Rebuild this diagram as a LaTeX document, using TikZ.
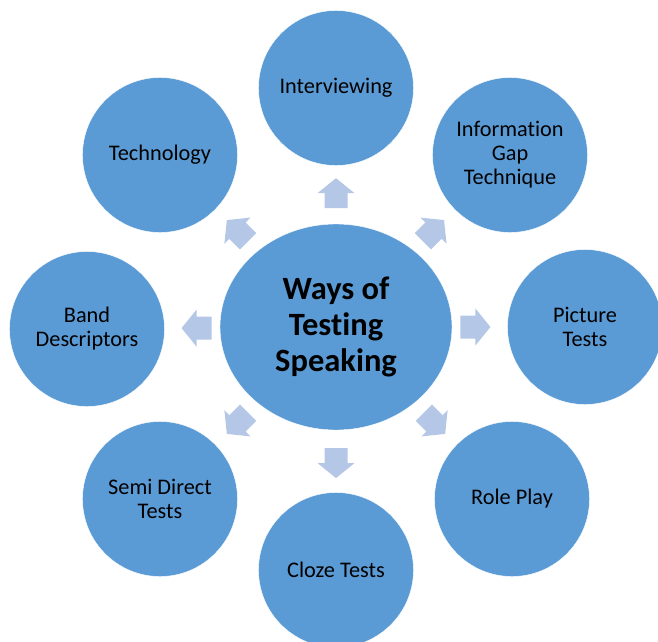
\documentclass[tikz,border=0pt]{standalone}
\usepackage{fontspec}
\setmainfont{Carlito}[Ligatures={NoCommon}]
\usetikzlibrary{positioning,shapes,calc}
\definecolor{hubblue}{HTML}{5B9BD5}
\definecolor{arrowblue}{HTML}{B4C7E7}

\begin{document}
\begin{tikzpicture}[x=1pt,y=1pt,
		leaf/.style={circle, fill=hubblue, draw=white, minimum size=155pt, inner sep=0pt, align=center, font=\fontsize{22.3}{24}\selectfont},
		hub/.style={ellipse, fill=hubblue, draw=white, minimum width=232pt, minimum height=206pt, inner sep=0pt, align=center, font=\fontsize{32.5}{36}\bfseries\selectfont}]
		\useasboundingbox (-336,-314) rectangle (322,327);
		
		\node[hub] (W) at (0, 0) {Ways of\\Testing\\Speaking};
		\node[leaf] (I) at (0, 239) {Interviewing};
		\node[leaf] (G) at (174, 172) {Information\\Gap\\Technique};
		\node[leaf] (P) at (249, 0) {Picture\\Tests};
		\node[leaf] (R) at (176, -172) {Role Play};
		\node[leaf] (C) at (0, -243) {Cloze Tests};
		\node[leaf] (S) at (-176, -172) {Semi Direct\\Tests};
		\node[leaf] (B) at (-249, -2) {Band\\Descriptors};
		\node[leaf] (T) at (-176, 172) {Technology};
		
		\foreach \n/\a in {I/90, G/45, P/0, R/-45, C/-90, S/-135, B/180, T/135}
			\fill[arrowblue, shift={($(W)!0.56!(\n)$)}, rotate=\a]
				(-15,-11.5) -- (0,-11.5) -- (0,-18.5) -- (15,0) -- (0,18.5) -- (0,11.5) -- (-15,11.5) -- cycle;
		
	\end{tikzpicture}
\end{document}
